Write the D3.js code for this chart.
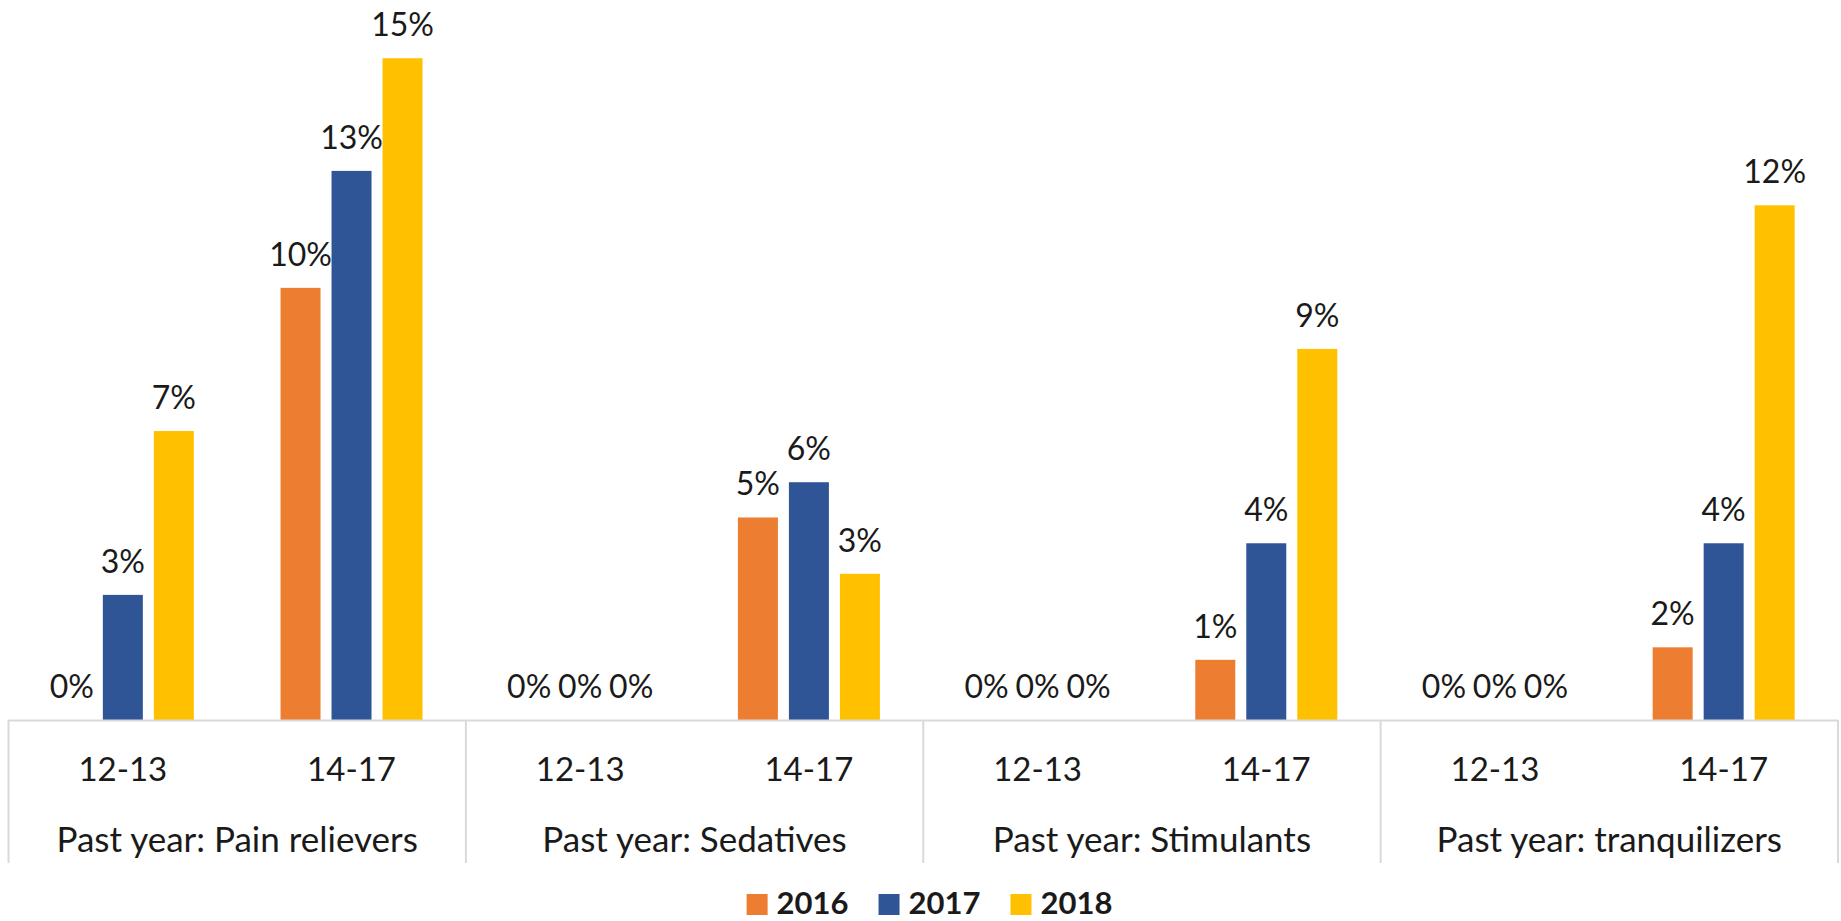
<!DOCTYPE html>
<html>
<head>
<meta charset="utf-8">
<script src="https://cdn.jsdelivr.net/npm/d3@7"></script>
<style>
  html, body { margin: 0; padding: 0; background: #fff; }
  svg { display: block; }
  text { font-family: Lato, "Open Sans", sans-serif; fill: #1a1a1a; }
</style>
</head>
<body>
<svg id="chart" width="1841" height="921"></svg>
<script>
// ---- data ----
const groups = ["Past year: Pain relievers", "Past year: Sedatives", "Past year: Stimulants", "Past year: tranquilizers"];
const ages = ["12-13", "14-17"];
const years = ["2016", "2017", "2018"];
const v2016 = [0, 10.05, 0, 4.71, 0, 1.40, 0, 1.69];
const v2017 = [2.91, 12.77, 0, 5.53, 0, 4.11, 0, 4.11];
const v2018 = [6.72, 15.39, 0, 3.40, 0, 8.63, 0, 11.97];
const colors = ["#ED7D31", "#2F5597", "#FFC000"];

// ---- layout ----
const left = 8.5, right = 1838, base = 720, yTopVal = 16, yTopPx = 32;
const svg = d3.select("#chart");

const subKeys = [];
groups.forEach((g, gi) => ages.forEach(a => subKeys.push(gi + "|" + a)));
const series = [v2016, v2017, v2018];
const rows = subKeys.map((k, i) => ({ key: k, age: k.split("|")[1], vals: years.map((y, j) => ({ year: y, j, v: series[j][i] })) }));

const x0 = d3.scaleBand().domain(subKeys).range([left, right]).padding(0);
const innerHalf = 71;
const x1 = d3.scaleBand().domain(years).range([-innerHalf, innerHalf]).paddingInner(11 / 51).paddingOuter(0);
const y = d3.scaleLinear().domain([0, yTopVal]).range([base, yTopPx]);
const fmt = d3.format(".0%");

// bars
const g = svg.append("g");
const cat = g.selectAll("g.cat").data(rows).join("g")
  .attr("class", "cat")
  .attr("transform", d => `translate(${x0(d.key) + x0.bandwidth() / 2},0)`);

cat.selectAll("rect").data(d => d.vals).join("rect")
  .attr("x", d => x1(d.year))
  .attr("width", x1.bandwidth())
  .attr("y", d => y(d.v))
  .attr("height", d => y(0) - y(d.v))
  .attr("fill", d => colors[d.j]);

cat.selectAll("text.lbl").data(d => d.vals).join("text")
  .attr("class", "lbl")
  .attr("x", d => x1(d.year) + x1.bandwidth() / 2)
  .attr("y", d => y(d.v) - 22)
  .attr("text-anchor", "middle")
  .style("font-size", "32px")
  .text(d => fmt(d.v / 100));

// axis lines
const axisColor = "#d9d9d9";
svg.append("line")
  .attr("x1", left).attr("x2", right).attr("y1", y(0) + 0.5).attr("y2", y(0) + 0.5)
  .attr("stroke", axisColor).attr("stroke-width", 2);

const sepX = [x0(subKeys[0])].concat(groups.map((gname, gi) => x0(gi + "|" + ages[1]) + x0.bandwidth()));
svg.selectAll("line.sep").data(sepX).join("line")
  .attr("class", "sep")
  .attr("x1", d => d).attr("x2", d => d)
  .attr("y1", y(0)).attr("y2", 863)
  .attr("stroke", axisColor).attr("stroke-width", 2);

// tick labels
svg.selectAll("text.age").data(rows).join("text")
  .attr("class", "age")
  .attr("x", d => x0(d.key) + x0.bandwidth() / 2)
  .attr("y", 781)
  .attr("text-anchor", "middle")
  .style("font-size", "33px")
  .text(d => d.age);

svg.selectAll("text.grp").data(groups).join("text")
  .attr("class", "grp")
  .attr("x", (d, i) => x0(i + "|" + ages[0]))
  .attr("dx", x0.bandwidth())
  .attr("y", 852)
  .attr("text-anchor", "middle")
  .style("font-size", "35px")
  .text(d => d);

// legend
const leg = svg.append("g");
const items = leg.selectAll("g").data(years).join("g");
items.append("rect").attr("width", 21).attr("height", 21).attr("y", 894)
  .attr("fill", (d, i) => colors[i]);
items.append("text").attr("x", 30).attr("y", 914)
  .style("font-size", "31px").style("font-weight", "bold")
  .text(d => d);
const widths = [];
items.each(function () { widths.push(this.getBBox().width); });
const gap = 30;
const total = d3.sum(widths) + gap * (widths.length - 1);
let start = 929.5 - total / 2;
items.attr("transform", (d, i) => {
  const t = `translate(${start},0)`;
  start += widths[i] + gap;
  return t;
});
</script>
</body>
</html>
